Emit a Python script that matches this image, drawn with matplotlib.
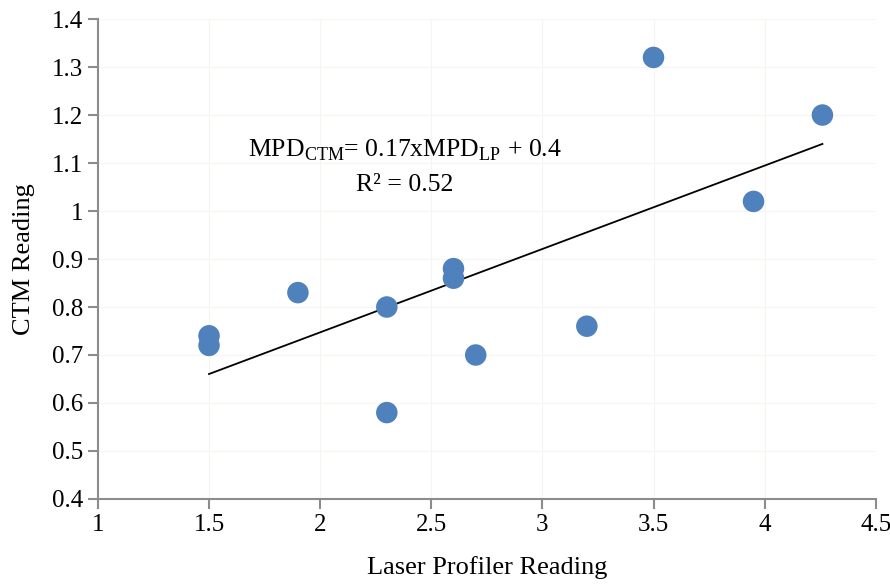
import matplotlib.pyplot as plt
import numpy as np

plt.rcParams['font.family'] = ['Liberation Serif', 'DejaVu Serif']
plt.rcParams['mathtext.fontset'] = 'custom'
plt.rcParams['mathtext.rm'] = 'Liberation Serif'

# data
laser = [1.5, 1.5, 1.9, 2.3, 2.3, 2.6, 2.6, 2.7, 3.2, 3.5, 3.95, 4.26]
ctm = [0.74, 0.72, 0.83, 0.80, 0.58, 0.88, 0.86, 0.70, 0.76, 1.32, 1.02, 1.20]
xticks = [1, 1.5, 2, 2.5, 3, 3.5, 4, 4.5]
yticks = [0.4, 0.5, 0.6, 0.7, 0.8, 0.9, 1.0, 1.1, 1.2, 1.3, 1.4]
xlabels = ['1', '1.5', '2', '2.5', '3', '3.5', '4', '4.5']
ylabels = ['0.4', '0.5', '0.6', '0.7', '0.8', '0.9', '1', '1.1', '1.2', '1.3', '1.4']

fig = plt.figure(figsize=(8.9, 5.86), dpi=100)
ax = fig.add_axes([0.110, 0.1485, 0.874, 0.819])

ax.scatter(laser, ctm, s=240, color='#4f81bd', edgecolors='none', zorder=3)

# linear trendline
slope, icept = np.polyfit(laser, ctm, 1)
xs = np.array([min(laser), max(laser)])
ax.plot(xs, slope * xs + icept, color='black', lw=1.3, zorder=2)

ax.set_xlim(1, 4.5)
ax.set_ylim(0.4, 1.4)
ax.set_xticks(xticks)
ax.set_yticks(yticks)
ax.set_xticklabels(xlabels, fontfamily='Liberation Serif')
ax.set_yticklabels(ylabels, fontfamily='Liberation Serif')
ax.grid(True, color='#f6f6f0', lw=0.8, zorder=0)

for side in ['top', 'right']:
    ax.spines[side].set_visible(False)
for side in ['left', 'bottom']:
    ax.spines[side].set_color('#8c8c8c')
    ax.spines[side].set_linewidth(1.5)
ax.tick_params(colors='#8c8c8c', width=1.5, length=7, labelsize=18, labelcolor='black')

ax.set_xlabel('Laser Profiler Reading', fontsize=19, labelpad=15)
ax.set_ylabel('CTM Reading', fontsize=19, labelpad=12)

ax.text(0.395, 0.727, r'MPD$_{\mathregular{CTM}}$= 0.17xMPD$_{\mathregular{LP}}$ + 0.4',
        transform=ax.transAxes, ha='center', va='center', fontsize=18.5)
ax.text(0.395, 0.654, 'R² = 0.52', transform=ax.transAxes, ha='center', va='center', fontsize=18.5)

fig.savefig('out.png', dpi=100)
